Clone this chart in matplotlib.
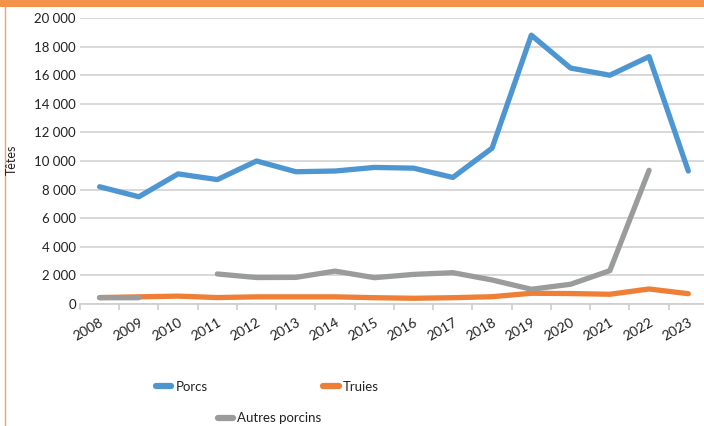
import matplotlib.pyplot as plt
from matplotlib.lines import Line2D
from matplotlib.patches import Rectangle
from matplotlib.ticker import FuncFormatter
import numpy as np

plt.rcParams['font.family'] = ['Lato', 'DejaVu Sans']

years = [str(y) for y in range(2008, 2024)]
porcs = [8200, 7500, 9100, 8700, 10000, 9250, 9300, 9550, 9500, 8850, 10900, 18800, 16500, 16000, 17300, 9300]
truies = [450, 500, 550, 450, 500, 500, 500, 440, 400, 440, 510, 750, 730, 680, 1050, 720]
autres = [440, 440, np.nan, 2100, 1850, 1860, 2300, 1840, 2070, 2190, 1680, 1030, 1380, 2330, 9350, np.nan]

c_blue = '#4E96D2'
c_orange = '#EF7F36'
c_gray = '#9A9C9C'

fig = plt.figure(figsize=(7.04, 4.26), dpi=100)
ax = fig.add_axes([0.1136, 0.2864, 0.892, 0.6713])

x = np.arange(len(years))
lw = 3.8
ax.plot(x, porcs, color=c_blue, lw=lw, solid_capstyle='round', solid_joinstyle='round', zorder=3)
ax.plot(x, truies, color=c_orange, lw=lw, solid_capstyle='round', solid_joinstyle='round', zorder=3)
ax.plot(x, autres, color=c_gray, lw=lw, solid_capstyle='round', solid_joinstyle='round', zorder=4)

ax.set_xlim(-0.5, len(years) - 0.5)
ax.set_ylim(0, 20000)
ax.set_yticks(np.arange(0, 20001, 2000))
ax.yaxis.set_major_formatter(FuncFormatter(lambda v, p: f'{v:,.0f}'.replace(',', ' ')))
ax.grid(axis='y', color='#D6D6D6', lw=1.3)
ax.set_axisbelow(True)

ax.set_xticks(x)
ax.set_xticklabels(years, rotation=30, ha='right', rotation_mode='anchor')
ax.set_xticks(np.arange(-0.5, len(years)), minor=True)
ax.tick_params(axis='x', which='major', length=0, pad=9, labelsize=10, colors='#222222')
ax.tick_params(axis='x', which='minor', length=4, color='#D0D0D0', width=1.3)
ax.tick_params(axis='y', length=0, pad=3, labelsize=9.5, colors='#222222')

for s in ['top', 'right', 'left']:
    ax.spines[s].set_visible(False)
ax.spines['bottom'].set_color('#D0D0D0')
ax.spines['bottom'].set_linewidth(1.3)

fig.text(0.017, 0.624, 'Têtes', rotation=90, va='center', ha='center', fontsize=9, color='#222222')

# top band and left border
fig.add_artist(Rectangle((0, 1 - 7 / 426), 1, 7 / 426, transform=fig.transFigure,
                         color='#F5924A', lw=0))
fig.add_artist(Line2D([5 / 704, 5 / 704], [0, 1 - 7 / 426], transform=fig.transFigure,
                      color='#F5A070', lw=1.0))

entries = [(c_blue, 'Porcs', 0.221, 0.0915), (c_orange, 'Truies', 0.459, 0.0915),
           (c_gray, 'Autres porcins', 0.309, 0.018)]
for col, lab, lx, ly in entries:
    h = Line2D([], [], color=col, lw=4.5, solid_capstyle='round')
    fig.legend([h], [lab], loc='center left', bbox_to_anchor=(lx, ly), frameon=False,
               handlelength=1.2, handletextpad=0.3, borderpad=0, borderaxespad=0,
               fontsize=9.5, labelcolor='#222222')

fig.savefig('out.png', dpi=100)
